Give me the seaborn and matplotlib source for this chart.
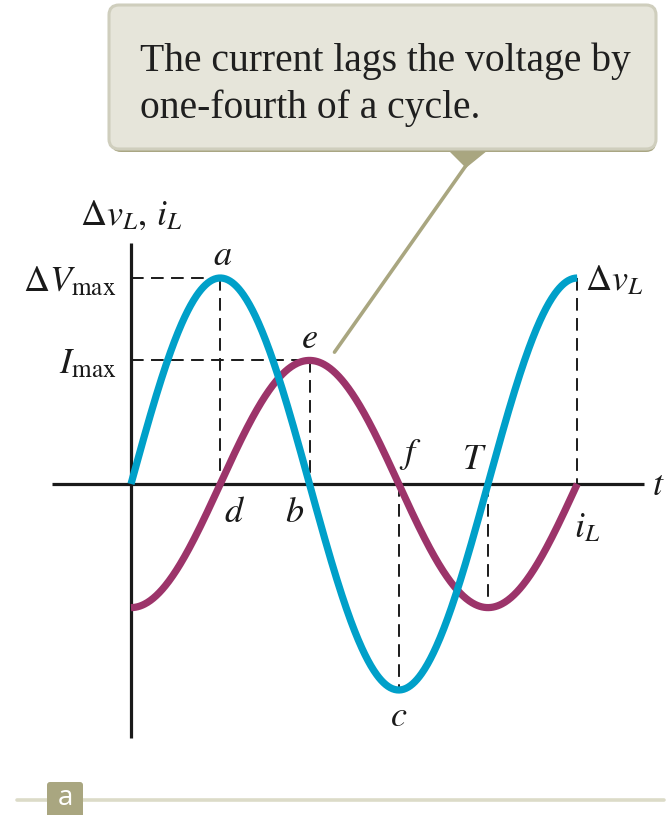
import numpy as np
import pandas as pd
import matplotlib
matplotlib.use("Agg")
import matplotlib.pyplot as plt
import seaborn as sns
from matplotlib.patches import FancyBboxPatch, Polygon

# Inductor in an AC circuit: voltage and current versus time
period = 1.0          # T
cycles_shown = 1.25   # time span drawn, in periods
v_peak = 1.0          # ΔV_max
i_peak = 0.6          # I_max (relative to ΔV_max on the drawing)
lag = 0.25            # current lags voltage by one-fourth of a cycle

callout_lines = ["The current lags the voltage by", "one-fourth of a cycle."]

BLUE = "#00a0c9"
MAGENTA = "#9c346a"
OLIVE = "#a9a680"
INK = "#1a1a1a"

sns.set_theme(style="white")
plt.rcParams["mathtext.fontset"] = "stix"
plt.rcParams["font.family"] = ["Liberation Serif", "DejaVu Serif"]

W, H = 669, 815
fig = plt.figure(figsize=(W / 100, H / 100), dpi=100)

# pixel-space layer for the callout and panel tag
deco = fig.add_axes([0, 0, 1, 1])
deco.set_xlim(0, W)
deco.set_ylim(H, 0)
deco.axis("off")

# data layer: x in periods, y in units of ΔV_max
ax = fig.add_axes([0, 0, 1, 1], facecolor="none")
t_px, v_px, x0_px, y0_px = 357.0, 206.0, 131.0, 484.0
ax.set_xlim(-x0_px / t_px, (W - x0_px) / t_px)
ax.set_ylim(-(H - y0_px) / v_px, y0_px / v_px)
ax.axis("off")

t = np.linspace(0, cycles_shown * period, 600)
w = 2 * np.pi / period
df = pd.DataFrame({
    "t": np.concatenate([t, t]),
    "value": np.concatenate([v_peak * np.sin(w * t), i_peak * np.sin(w * (t - lag))]),
    "series": ["v"] * len(t) + ["i"] * len(t),
})

# axes lines
ax.plot([-0.22, 1.437], [0, 0], color=INK, lw=2.3, solid_capstyle="butt", zorder=2)
ax.plot([0, 0], [-1.233, 1.17], color=INK, lw=2.3, solid_capstyle="butt", zorder=2)

# dashed guides
dash = dict(color=INK, lw=1.4, linestyle=(0, (6.5, 3.8)), zorder=1)
q = period / 4
ax.plot([0, q], [v_peak, v_peak], **dash)
ax.plot([0, 2 * q], [i_peak, i_peak], **dash)
ax.plot([q, q], [v_peak, 0], **dash)
ax.plot([2 * q, 2 * q], [i_peak, 0], **dash)
ax.plot([3 * q, 3 * q], [0, -v_peak], **dash)
ax.plot([4 * q, 4 * q], [0, -i_peak], **dash)
ax.plot([5 * q, 5 * q], [v_peak, 0], **dash)

sns.lineplot(data=df, x="t", y="value", hue="series", hue_order=["i", "v"],
             palette={"v": BLUE, "i": MAGENTA}, lw=5.2, sort=False,
             legend=False, ax=ax, zorder=3)
for ln in ax.get_lines()[-2:]:
    ln.set_solid_capstyle("butt")

fs = 26
PT = 0.72  # points per pixel at 100 dpi


def label(text, xy, dx_px, dy_px, ha="center"):
    ax.annotate(text, xy, xytext=(dx_px * PT, -dy_px * PT), textcoords="offset points",
                ha=ha, va="center", fontsize=fs, color=INK)


label(r"$a$", (q, v_peak), 2, -21)
label(r"$e$", (2 * q, i_peak), 0, -21)
label(r"$c$", (3 * q, -v_peak), 0, 27)
label(r"$d$", (q, 0), 14, 30)
label(r"$b$", (2 * q, 0), -15, 30)
label(r"$f$", (3 * q, 0), 12, -29)
label(r"$T$", (4 * q, 0), -14, -23)
label(r"$t$", (1.437, 0), 8, 3, ha="left")
label(r"$\Delta v_L$", (5 * q, v_peak), 8, 3, ha="left")
label(r"$i_L$", (5 * q, 0), -3, 45, ha="left")
label(r"$\Delta V_{\rm max}$", (0, v_peak), -15, 4, ha="right")
label(r"$I_{\rm max}$", (0, i_peak), -15, 4, ha="right")
label(r"$\Delta v_L,\, i_L$", (0, 1.17), 0, -27)

# callout pointer
ax.annotate("", xy=(0.57, 0.64), xytext=(0.94, 1.55),
            arrowprops=dict(arrowstyle="-", color=OLIVE, lw=2.6, shrinkA=0, shrinkB=0))
deco.add_patch(Polygon([[449, 150], [487, 150], [466, 167]], closed=True, color=OLIVE, zorder=2))

# callout box with shadow along the bottom
deco.add_patch(FancyBboxPatch((111, 9), 545, 143, boxstyle="round,pad=0,rounding_size=10",
                              facecolor="#a9a683", edgecolor="none", zorder=3))
deco.add_patch(FancyBboxPatch((109, 5), 547, 144, boxstyle="round,pad=0,rounding_size=10",
                              facecolor="#e6e5da", edgecolor="#cfcebd", lw=2.2, zorder=4))
deco.text(140, 71, callout_lines[0], fontsize=28.5, color="#1f1f1f", ha="left", va="baseline", zorder=5)
deco.text(140, 118, callout_lines[1], fontsize=28.5, color="#1f1f1f", ha="left", va="baseline", zorder=5)

# panel tag
deco.plot([17, 664], [800, 800], color="#dcdbc8", lw=2.6, solid_capstyle="round", zorder=1)
deco.add_patch(FancyBboxPatch((47, 782), 36, 36, boxstyle="round,pad=0,rounding_size=3",
                              facecolor=OLIVE, edgecolor="none", zorder=2))
deco.text(65, 798, "a", fontsize=20, color="white", ha="center", va="center",
          family=["Open Sans", "DejaVu Sans"], zorder=3)

fig.savefig("out.png", dpi=100)
